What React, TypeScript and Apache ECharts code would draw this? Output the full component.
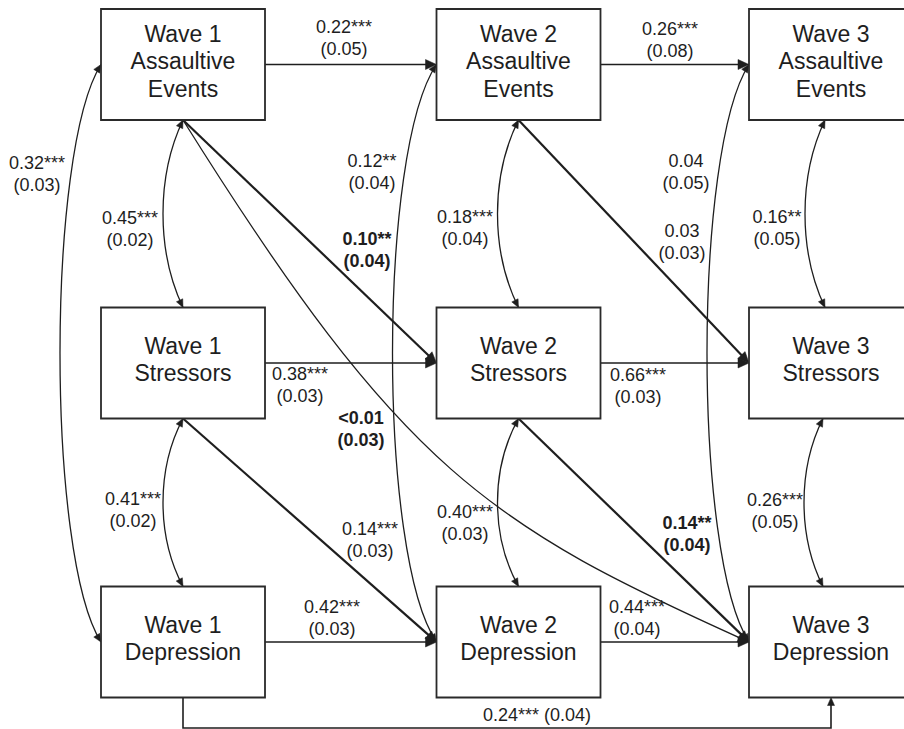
import React, { useEffect, useRef } from 'react';
import * as echarts from 'echarts';

// ---- Model content -------------------------------------------------------
const waves = ['Wave 1', 'Wave 2', 'Wave 3'];
const constructs = ['Assaultive\nEvents', 'Stressors', 'Depression'];
const constructKeys = ['A', 'S', 'D'];

// Autoregressive (stability) paths between adjacent waves
const stabilityPaths = [
  { from: 'A1', to: 'A2', est: '0.22***', se: '(0.05)' },
  { from: 'A2', to: 'A3', est: '0.26***', se: '(0.08)' },
  { from: 'S1', to: 'S2', est: '0.38***', se: '(0.03)' },
  { from: 'S2', to: 'S3', est: '0.66***', se: '(0.03)' },
  { from: 'D1', to: 'D2', est: '0.42***', se: '(0.03)' },
  { from: 'D2', to: 'D3', est: '0.44***', se: '(0.04)' },
];

// Cross-lagged paths
const crossLaggedPaths = [
  { from: 'A1', to: 'S2', est: '0.10**', se: '(0.04)' },
  { from: 'S1', to: 'D2', est: '0.14***', se: '(0.03)' },
  { from: 'A2', to: 'S3', est: '0.03', se: '(0.03)' },
  { from: 'S2', to: 'D3', est: '0.14**', se: '(0.04)' },
  { from: 'A1', to: 'D3', est: '<0.01', se: '(0.03)' },
];

// Wave 1 -> Wave 3 depression
const twoWaveLag = [{ from: 'D1', to: 'D3', est: '0.24***', se: '(0.04)' }];

// Within-wave (residual) covariances
const covariances = [
  { from: 'A1', to: 'S1', est: '0.45***', se: '(0.02)' },
  { from: 'S1', to: 'D1', est: '0.41***', se: '(0.02)' },
  { from: 'A1', to: 'D1', est: '0.32***', se: '(0.03)' },
  { from: 'A2', to: 'S2', est: '0.18***', se: '(0.04)' },
  { from: 'S2', to: 'D2', est: '0.40***', se: '(0.03)' },
  { from: 'A2', to: 'D2', est: '0.12**', se: '(0.04)' },
  { from: 'A3', to: 'S3', est: '0.16**', se: '(0.05)' },
  { from: 'S3', to: 'D3', est: '0.26***', se: '(0.05)' },
  { from: 'A3', to: 'D3', est: '0.04', se: '(0.05)' },
];

// ---- Layout & styling ----------------------------------------------------
const W = 904;
const H = 729;
const COL_X = [183, 518.5, 831];
const ROW_Y = [64.5, 363, 642];
const BOX_W = 164;
const BOX_H = 111;
const INK = '#1e1e1e';
const FONT = "'Liberation Sans', Arial, Helvetica, sans-serif";

type Side = 'left' | 'right' | 'top' | 'bottom';
type Route = {
  kind: 'line' | 'curve' | 'elbow' | 'arc';
  fromSide?: Side;
  toSide?: Side;
  label: [number, number];
  bold?: boolean;
  width?: number;
  c1?: [number, number];
  c2?: [number, number];
  bow?: number;
  reach?: number;
  shift?: number;
  drop?: number;
};

const routes: Record<string, Route> = {
  'A1-A2': { kind: 'line', fromSide: 'right', toSide: 'left', label: [344, 27] },
  'A2-A3': { kind: 'line', fromSide: 'right', toSide: 'left', label: [670, 29] },
  'S1-S2': { kind: 'line', fromSide: 'right', toSide: 'left', label: [300, 374] },
  'S2-S3': { kind: 'line', fromSide: 'right', toSide: 'left', label: [638, 375] },
  'D1-D2': { kind: 'line', fromSide: 'right', toSide: 'left', label: [332, 607] },
  'D2-D3': { kind: 'line', fromSide: 'right', toSide: 'left', label: [637, 607] },
  'A1-S2': { kind: 'line', fromSide: 'bottom', toSide: 'left', label: [367, 239], bold: true, width: 2.2 },
  'S1-D2': { kind: 'line', fromSide: 'bottom', toSide: 'left', label: [370, 529], width: 2.2 },
  'A2-S3': { kind: 'line', fromSide: 'bottom', toSide: 'left', label: [682, 231], width: 2.2 },
  'S2-D3': { kind: 'line', fromSide: 'bottom', toSide: 'left', label: [687, 523], bold: true, width: 2.2 },
  'A1-D3': {
    kind: 'curve', fromSide: 'bottom', toSide: 'left', label: [361, 418], bold: true,
    c1: [220, 352], c2: [-260, -117],
  },
  'D1-D3': { kind: 'elbow', fromSide: 'bottom', toSide: 'bottom', label: [537, 715], drop: 30.5 },
  'A1-S1': { kind: 'arc', fromSide: 'bottom', toSide: 'top', label: [130, 218], bow: 20 },
  'S1-D1': { kind: 'arc', fromSide: 'bottom', toSide: 'top', label: [133, 499], bow: 20 },
  'A1-D1': { kind: 'arc', fromSide: 'left', toSide: 'left', label: [37, 163], bow: 41, reach: 0.15 },
  'A2-S2': { kind: 'arc', fromSide: 'bottom', toSide: 'top', label: [465, 217], bow: 21 },
  'S2-D2': { kind: 'arc', fromSide: 'bottom', toSide: 'top', label: [465, 512], bow: 21 },
  'A2-D2': { kind: 'arc', fromSide: 'left', toSide: 'left', label: [372, 161], bow: 44, reach: 0.15 },
  'A3-S3': { kind: 'arc', fromSide: 'bottom', toSide: 'top', label: [777, 217], bow: 20, shift: -6 },
  'S3-D3': { kind: 'arc', fromSide: 'bottom', toSide: 'top', label: [775, 500], bow: 19, shift: -8 },
  'A3-D3': { kind: 'arc', fromSide: 'left', toSide: 'left', label: [686, 161], bow: 42, reach: 0.15 },
};

type Edge = { from: string; to: string; est: string; se: string; twoHeaded: boolean };
const edges: Edge[] = [
  ...stabilityPaths.map((e) => ({ ...e, twoHeaded: false })),
  ...crossLaggedPaths.map((e) => ({ ...e, twoHeaded: false })),
  ...twoWaveLag.map((e) => ({ ...e, twoHeaded: false })),
  ...covariances.map((e) => ({ ...e, twoHeaded: true })),
];

type Node = { id: string; col: number; row: number; lines: string[] };
const nodes: Node[] = [];
waves.forEach((wave, col) => {
  constructs.forEach((c, row) => {
    nodes.push({ id: constructKeys[row] + (col + 1), col, row, lines: [wave, ...c.split('\n')] });
  });
});
const nodeById: Record<string, Node> = {};
nodes.forEach((n) => (nodeById[n.id] = n));

function anchor(id: string, side: Side): [number, number] {
  const n = nodeById[id];
  const cx = COL_X[n.col];
  const cy = ROW_Y[n.row];
  if (side === 'left') return [cx - BOX_W / 2, cy];
  if (side === 'right') return [cx + BOX_W / 2, cy];
  if (side === 'top') return [cx, cy - BOX_H / 2];
  return [cx, cy + BOX_H / 2];
}

function arrowHead(tip: number[], from: number[], len: number, half: number) {
  const dx = tip[0] - from[0];
  const dy = tip[1] - from[1];
  const d = Math.hypot(dx, dy) || 1;
  const ux = dx / d;
  const uy = dy / d;
  const bx = tip[0] - ux * len;
  const by = tip[1] - uy * len;
  return {
    type: 'polygon',
    shape: { points: [[tip[0], tip[1]], [bx - uy * half, by + ux * half], [bx + uy * half, by - ux * half]] },
    style: { fill: INK, stroke: INK, lineWidth: 0.5 },
  };
}

function textEl(text: string, x: number, y: number, size: number, bold: boolean) {
  return {
    type: 'text',
    style: {
      text, x, y,
      align: 'center', verticalAlign: 'middle',
      fontSize: size, fontFamily: FONT, fontWeight: bold ? 'bold' : 'normal',
      fill: INK,
    },
  };
}

function renderEdge(params: any, api: any) {
  const e = edges[params.dataIndex];
  const r = routes[e.from + '-' + e.to];
  const px = (p: number[]) => api.coord(p);
  const children: any[] = [];
  const lw = r.width ?? (r.kind === 'arc' || r.kind === 'curve' ? 1.3 : 1.6);
  const big = { len: 11, half: 5 };
  const small = { len: 8, half: 3.5 };

  const p0 = anchor(e.from, r.fromSide!);
  const p3 = anchor(e.to, r.toSide!);

  if (r.kind === 'line') {
    const a = px(p0);
    const b = px(p3);
    const d = Math.hypot(b[0] - a[0], b[1] - a[1]);
    const k = (d - big.len * 0.6) / d;
    children.push({
      type: 'line',
      shape: { x1: a[0], y1: a[1], x2: a[0] + (b[0] - a[0]) * k, y2: a[1] + (b[1] - a[1]) * k },
      style: { stroke: INK, lineWidth: lw },
    });
    children.push(arrowHead(b, a, big.len, big.half));
  } else if (r.kind === 'curve') {
    const c1 = [p0[0] + r.c1![0], p0[1] + r.c1![1]];
    const c2 = [p3[0] + r.c2![0], p3[1] + r.c2![1]];
    const a = px(p0), b = px(p3), q1 = px(c1), q2 = px(c2);
    children.push({
      type: 'bezierCurve',
      shape: { x1: a[0], y1: a[1], x2: b[0], y2: b[1], cpx1: q1[0], cpy1: q1[1], cpx2: q2[0], cpy2: q2[1] },
      style: { stroke: INK, lineWidth: lw, fill: null },
    });
    children.push(arrowHead(b, q2, big.len, big.half));
  } else if (r.kind === 'elbow') {
    const p1 = [p0[0], p0[1] + r.drop!];
    const p2 = [p3[0], p3[1] + r.drop!];
    const pts = [p0, p1, p2, [p3[0], p3[1] + small.len * 0.6]].map(px);
    children.push({ type: 'polyline', shape: { points: pts }, style: { stroke: INK, lineWidth: lw, fill: null } });
    children.push(arrowHead(px(p3), px(p2), small.len, small.half));
  } else {
    const x0 = p0[0] + (r.shift ?? 0);
    const x3 = p3[0] + (r.shift ?? 0);
    const s = [x0, p0[1]];
    const t = [x3, p3[1]];
    const reach = r.reach ?? 0.3;
    const cx = (x0 + x3) / 2 - (r.bow! * 4) / 3;
    const span = t[1] - s[1];
    const c1 = [cx, s[1] + span * reach];
    const c2 = [cx, t[1] - span * reach];
    const a = px(s), b = px(t), q1 = px(c1), q2 = px(c2);
    children.push({
      type: 'bezierCurve',
      shape: { x1: a[0], y1: a[1], x2: b[0], y2: b[1], cpx1: q1[0], cpy1: q1[1], cpx2: q2[0], cpy2: q2[1] },
      style: { stroke: INK, lineWidth: lw, fill: null },
    });
    children.push(arrowHead(b, q2, small.len, small.half));
    if (e.twoHeaded) children.push(arrowHead(a, q1, small.len, small.half));
  }

  const lp = px(r.label);
  if (r.kind === 'elbow') {
    children.push(textEl(`${e.est} ${e.se}`, lp[0], lp[1], 18, !!r.bold));
  } else {
    children.push(textEl(e.est, lp[0], lp[1], 18, !!r.bold));
    children.push(textEl(e.se, lp[0], lp[1] + 22, 18, !!r.bold));
  }
  return { type: 'group', children };
}

function renderNode(params: any, api: any) {
  const n = nodes[params.dataIndex];
  const c = api.coord([COL_X[n.col], ROW_Y[n.row]]);
  const tl = api.coord([COL_X[n.col] - BOX_W / 2, ROW_Y[n.row] - BOX_H / 2]);
  const br = api.coord([COL_X[n.col] + BOX_W / 2, ROW_Y[n.row] + BOX_H / 2]);
  const children: any[] = [
    {
      type: 'rect',
      shape: { x: tl[0], y: tl[1], width: br[0] - tl[0], height: br[1] - tl[1] },
      style: { fill: '#fff', stroke: '#2a2a2a', lineWidth: 1.8 },
    },
  ];
  const count = n.lines.length;
  const step = 27.5;
  n.lines.forEach((line, i) => {
    const y = c[1] - 3.5 + (i - (count - 1) / 2) * step;
    children.push(textEl(line, c[0], y, 23, false));
  });
  return { type: 'group', children };
}

export default function App() {
  const ref = useRef<HTMLDivElement>(null);

  useEffect(() => {
    if (!ref.current) return;
    const chart = echarts.init(ref.current, undefined, { renderer: 'svg' });
    chart.setOption({
      animation: false,
      backgroundColor: '#ffffff',
      grid: { left: 0, right: 0, top: 0, bottom: 0 },
      xAxis: { type: 'value', min: 0, max: W, show: false },
      yAxis: { type: 'value', min: 0, max: H, inverse: true, show: false },
      series: [
        {
          type: 'custom',
          name: 'paths',
          silent: true,
          renderItem: renderEdge,
          data: edges.map((_, i) => [i, 0]),
          z: 1,
        },
        {
          type: 'custom',
          name: 'variables',
          silent: true,
          renderItem: renderNode,
          data: nodes.map((_, i) => [i, 0]),
          z: 2,
        },
      ],
    });
    return () => chart.dispose();
  }, []);

  return (
    <div
      ref={ref}
      style={{ position: 'absolute', left: 0, top: 0, width: W, height: H, background: '#fff' }}
    />
  );
}
